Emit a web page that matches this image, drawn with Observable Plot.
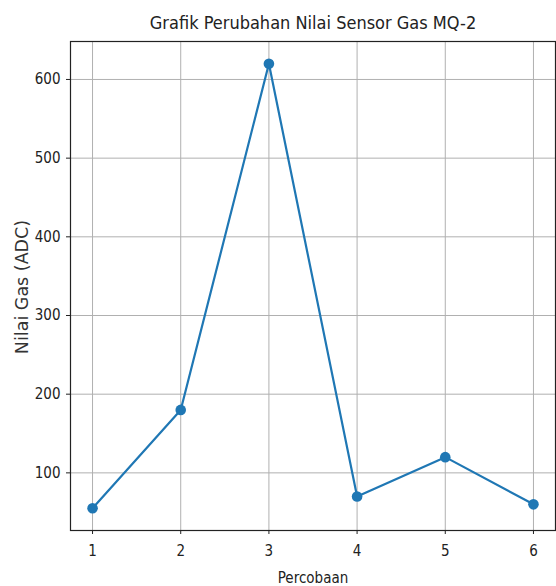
<!DOCTYPE html>
<html>
<head>
<meta charset="utf-8">
<script src="https://cdn.jsdelivr.net/npm/d3@7"></script>
<script src="https://cdn.jsdelivr.net/npm/@observablehq/plot@0.6"></script>
<style>
  html, body { margin: 0; padding: 0; background: white; }
</style>
</head>
<body>
<div id="chart"></div>
<script>
const trials = [1, 2, 3, 4, 5, 6];
const gasValues = [55, 180, 620, 70, 120, 60];
const xTicks = [1, 2, 3, 4, 5, 6];
const yTicks = [100, 200, 300, 400, 500, 600];
const titleText = "Grafik Perubahan Nilai Sensor Gas MQ-2";
const xLabelText = "Percobaan";
const yLabelText = "Nilai Gas (ADC)";

const data = trials.map((t, i) => ({trial: t, value: gasValues[i]}));

// matplotlib-style 5% margins
const xMin = d3.min(trials), xMax = d3.max(trials);
const yMin = d3.min(gasValues), yMax = d3.max(gasValues);
const xPad = (xMax - xMin) * 0.05, yPad = (yMax - yMin) * 0.05;

const cond = "'DejaVu Sans Condensed', 'DejaVu Sans', sans-serif";

const chart = Plot.plot({
  width: 556,
  height: 586,
  marginLeft: 70,
  marginRight: 1,
  marginTop: 41,
  marginBottom: 56,
  style: {fontFamily: cond, background: "white", color: "#222"},
  x: {domain: [xMin - xPad, xMax + xPad]},
  y: {domain: [yMin - yPad, yMax + yPad]},
  marks: [
    Plot.gridX(xTicks, {stroke: "#b0b0b0", strokeOpacity: 1, strokeWidth: 1}),
    Plot.gridY(yTicks, {stroke: "#b0b0b0", strokeOpacity: 1, strokeWidth: 1}),
    Plot.axisX(xTicks, {tickSize: 4, tickPadding: 11, fontSize: 15, label: null, tickFormat: d => String(d), stroke: "#222"}),
    Plot.axisY(yTicks, {tickSize: 4, tickPadding: 6, fontSize: 15, label: null, tickFormat: d => String(d), stroke: "#222"}),
    Plot.line(data, {x: "trial", y: "value", stroke: "#1f77b4", strokeWidth: 2.2}),
    Plot.dot(data, {x: "trial", y: "value", r: 5.3, fill: "#1f77b4"}),
    Plot.frame({stroke: "#222", strokeWidth: 1.2}),
    Plot.text([titleText], {text: d => d, frameAnchor: "top", lineAnchor: "bottom", dy: -13, fontSize: 18, fontFamily: cond, fill: "#222"}),
    Plot.text([xLabelText], {text: d => d, frameAnchor: "bottom", lineAnchor: "bottom", dy: 52, fontSize: 15, fontFamily: cond, fill: "#222"}),
    Plot.text([yLabelText], {text: d => d, frameAnchor: "left", textAnchor: "middle", lineAnchor: "middle", dx: -48, dy: 1, rotate: -90, fontSize: 17.5, fontFamily: "'DejaVu Sans', sans-serif", fill: "#333"})
  ]
});
document.getElementById("chart").appendChild(chart);
</script>
</body>
</html>
